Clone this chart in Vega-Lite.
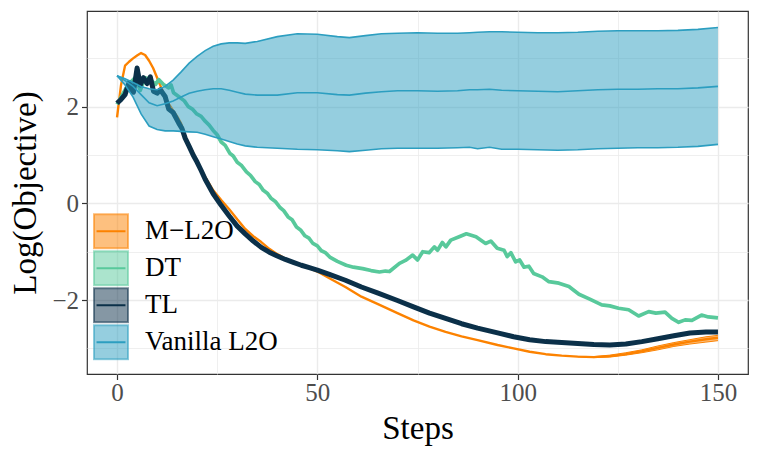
{
  "$schema": "https://vega.github.io/schema/vega-lite/v6.json",
  "width": 661,
  "height": 363,
  "autosize": {"type": "none"},
  "padding": {"left": 87, "top": 11, "right": 13, "bottom": 83},
  "background": "white",
  "config": {
    "font": "Liberation Serif",
    "view": {"stroke": "#333333", "strokeWidth": 1.2},
    "axis": {
      "domain": false,
      "gridColor": "#EBEBEB",
      "tickColor": "#333333",
      "tickSize": 5.5,
      "tickWidth": 1.2,
      "labelFont": "Liberation Serif",
      "labelFontSize": 25,
      "labelColor": "#4D4D4D",
      "titleFont": "Liberation Serif",
      "titleFontSize": 33,
      "titleFontWeight": "normal",
      "titleColor": "black"
    },
    "legend": {
      "labelFont": "Liberation Serif",
      "labelFontSize": 27,
      "labelColor": "black",
      "labelLimit": 400
    }
  },
  "datasets": {
    "runs": [
      {"method": "M−L2O", "step": 0, "y": 1.78},
      {"method": "M−L2O", "step": 1, "y": 2.45},
      {"method": "M−L2O", "step": 2, "y": 2.85},
      {"method": "M−L2O", "step": 3, "y": 2.93},
      {"method": "M−L2O", "step": 4, "y": 3.0},
      {"method": "M−L2O", "step": 5, "y": 3.06},
      {"method": "M−L2O", "step": 6, "y": 3.11},
      {"method": "M−L2O", "step": 7, "y": 3.07},
      {"method": "M−L2O", "step": 8, "y": 2.95},
      {"method": "M−L2O", "step": 9, "y": 2.8},
      {"method": "M−L2O", "step": 10, "y": 2.6},
      {"method": "M−L2O", "step": 11, "y": 2.4},
      {"method": "M−L2O", "step": 12, "y": 2.2},
      {"method": "M−L2O", "step": 13, "y": 2.05},
      {"method": "M−L2O", "step": 14, "y": 1.92},
      {"method": "M−L2O", "step": 15, "y": 1.8},
      {"method": "M−L2O", "step": 16, "y": 1.65},
      {"method": "M−L2O", "step": 17, "y": 1.4},
      {"method": "M−L2O", "step": 18, "y": 1.2},
      {"method": "M−L2O", "step": 19, "y": 1.05},
      {"method": "M−L2O", "step": 20, "y": 0.85},
      {"method": "M−L2O", "step": 21, "y": 0.7},
      {"method": "M−L2O", "step": 22, "y": 0.55},
      {"method": "M−L2O", "step": 24, "y": 0.27},
      {"method": "M−L2O", "step": 26, "y": 0.07},
      {"method": "M−L2O", "step": 28, "y": -0.12},
      {"method": "M−L2O", "step": 30, "y": -0.33},
      {"method": "M−L2O", "step": 32, "y": -0.53},
      {"method": "M−L2O", "step": 34, "y": -0.68},
      {"method": "M−L2O", "step": 36, "y": -0.8},
      {"method": "M−L2O", "step": 38, "y": -0.94},
      {"method": "M−L2O", "step": 40, "y": -1.05},
      {"method": "M−L2O", "step": 42, "y": -1.14},
      {"method": "M−L2O", "step": 44, "y": -1.22},
      {"method": "M−L2O", "step": 46, "y": -1.29},
      {"method": "M−L2O", "step": 48, "y": -1.34},
      {"method": "M−L2O", "step": 50, "y": -1.41},
      {"method": "M−L2O", "step": 53, "y": -1.55},
      {"method": "M−L2O", "step": 57, "y": -1.73},
      {"method": "M−L2O", "step": 61, "y": -1.93},
      {"method": "M−L2O", "step": 65, "y": -2.08},
      {"method": "M−L2O", "step": 70, "y": -2.27},
      {"method": "M−L2O", "step": 74, "y": -2.42},
      {"method": "M−L2O", "step": 78, "y": -2.55},
      {"method": "M−L2O", "step": 82, "y": -2.66},
      {"method": "M−L2O", "step": 86, "y": -2.75},
      {"method": "M−L2O", "step": 90, "y": -2.83},
      {"method": "M−L2O", "step": 95, "y": -2.93},
      {"method": "M−L2O", "step": 99, "y": -3.0},
      {"method": "M−L2O", "step": 103, "y": -3.07},
      {"method": "M−L2O", "step": 107, "y": -3.12},
      {"method": "M−L2O", "step": 111, "y": -3.15},
      {"method": "M−L2O", "step": 115, "y": -3.17, "lo": -3.175, "hi": -3.165},
      {"method": "M−L2O", "step": 119, "y": -3.18, "lo": -3.19, "hi": -3.17},
      {"method": "M−L2O", "step": 123, "y": -3.16, "lo": -3.18, "hi": -3.14},
      {"method": "M−L2O", "step": 127, "y": -3.12, "lo": -3.14, "hi": -3.09},
      {"method": "M−L2O", "step": 131, "y": -3.06, "lo": -3.09, "hi": -3.03},
      {"method": "M−L2O", "step": 135, "y": -2.99, "lo": -3.03, "hi": -2.95},
      {"method": "M−L2O", "step": 139, "y": -2.92, "lo": -2.96, "hi": -2.88},
      {"method": "M−L2O", "step": 143, "y": -2.86, "lo": -2.91, "hi": -2.82},
      {"method": "M−L2O", "step": 147, "y": -2.81, "lo": -2.87, "hi": -2.76},
      {"method": "M−L2O", "step": 150, "y": -2.78, "lo": -2.84, "hi": -2.73},

      {"method": "DT", "step": 0, "y": 2.05},
      {"method": "DT", "step": 1, "y": 2.2},
      {"method": "DT", "step": 2.5, "y": 2.42},
      {"method": "DT", "step": 3.7, "y": 2.53},
      {"method": "DT", "step": 4.5, "y": 2.6},
      {"method": "DT", "step": 5.8, "y": 2.34},
      {"method": "DT", "step": 7, "y": 2.6},
      {"method": "DT", "step": 8.3, "y": 2.56},
      {"method": "DT", "step": 9.6, "y": 2.46},
      {"method": "DT", "step": 10.4, "y": 2.56},
      {"method": "DT", "step": 11.6, "y": 2.46},
      {"method": "DT", "step": 12.9, "y": 2.39},
      {"method": "DT", "step": 13.5, "y": 2.45},
      {"method": "DT", "step": 14.1, "y": 2.29},
      {"method": "DT", "step": 15.7, "y": 2.19},
      {"method": "DT", "step": 16.8, "y": 2.12},
      {"method": "DT", "step": 17.8, "y": 2.0},
      {"method": "DT", "step": 18.8, "y": 1.95},
      {"method": "DT", "step": 19.9, "y": 1.85},
      {"method": "DT", "step": 21, "y": 1.8},
      {"method": "DT", "step": 22, "y": 1.7},
      {"method": "DT", "step": 23, "y": 1.62},
      {"method": "DT", "step": 24, "y": 1.51},
      {"method": "DT", "step": 25, "y": 1.42},
      {"method": "DT", "step": 26, "y": 1.27},
      {"method": "DT", "step": 27, "y": 1.2},
      {"method": "DT", "step": 28.2, "y": 1.03},
      {"method": "DT", "step": 29, "y": 0.98},
      {"method": "DT", "step": 30, "y": 0.85},
      {"method": "DT", "step": 31, "y": 0.79},
      {"method": "DT", "step": 32.3, "y": 0.65},
      {"method": "DT", "step": 33.3, "y": 0.58},
      {"method": "DT", "step": 34.5, "y": 0.45},
      {"method": "DT", "step": 35.5, "y": 0.39},
      {"method": "DT", "step": 36.5, "y": 0.27},
      {"method": "DT", "step": 37.5, "y": 0.21},
      {"method": "DT", "step": 38.5, "y": 0.1},
      {"method": "DT", "step": 39.5, "y": 0.04},
      {"method": "DT", "step": 40.6, "y": -0.08},
      {"method": "DT", "step": 41.6, "y": -0.15},
      {"method": "DT", "step": 42.7, "y": -0.28},
      {"method": "DT", "step": 43.7, "y": -0.34},
      {"method": "DT", "step": 44.8, "y": -0.49},
      {"method": "DT", "step": 45.8, "y": -0.55},
      {"method": "DT", "step": 46.9, "y": -0.67},
      {"method": "DT", "step": 47.9, "y": -0.72},
      {"method": "DT", "step": 48.9, "y": -0.83},
      {"method": "DT", "step": 50, "y": -0.88},
      {"method": "DT", "step": 51, "y": -0.98},
      {"method": "DT", "step": 52, "y": -1.02},
      {"method": "DT", "step": 53.1, "y": -1.11},
      {"method": "DT", "step": 55, "y": -1.2},
      {"method": "DT", "step": 57.2, "y": -1.28},
      {"method": "DT", "step": 59, "y": -1.32},
      {"method": "DT", "step": 61.3, "y": -1.35},
      {"method": "DT", "step": 63.4, "y": -1.39},
      {"method": "DT", "step": 65.5, "y": -1.42},
      {"method": "DT", "step": 67, "y": -1.4},
      {"method": "DT", "step": 68, "y": -1.41},
      {"method": "DT", "step": 70.5, "y": -1.24},
      {"method": "DT", "step": 72, "y": -1.18},
      {"method": "DT", "step": 73.8, "y": -1.07},
      {"method": "DT", "step": 75, "y": -1.17},
      {"method": "DT", "step": 76.3, "y": -1.0},
      {"method": "DT", "step": 77.9, "y": -1.02},
      {"method": "DT", "step": 79.2, "y": -0.9},
      {"method": "DT", "step": 80, "y": -0.97},
      {"method": "DT", "step": 81.2, "y": -0.81},
      {"method": "DT", "step": 82.1, "y": -0.9},
      {"method": "DT", "step": 83.3, "y": -0.76},
      {"method": "DT", "step": 85.4, "y": -0.69},
      {"method": "DT", "step": 87.2, "y": -0.63},
      {"method": "DT", "step": 89.6, "y": -0.69},
      {"method": "DT", "step": 92, "y": -0.83},
      {"method": "DT", "step": 93.3, "y": -0.78},
      {"method": "DT", "step": 94.9, "y": -0.93},
      {"method": "DT", "step": 96.6, "y": -0.97},
      {"method": "DT", "step": 97.4, "y": -1.1},
      {"method": "DT", "step": 98.3, "y": -1.02},
      {"method": "DT", "step": 99.5, "y": -1.21},
      {"method": "DT", "step": 100.5, "y": -1.17},
      {"method": "DT", "step": 101.6, "y": -1.32},
      {"method": "DT", "step": 102.8, "y": -1.3},
      {"method": "DT", "step": 104, "y": -1.45},
      {"method": "DT", "step": 106.1, "y": -1.52},
      {"method": "DT", "step": 107.8, "y": -1.62},
      {"method": "DT", "step": 110.3, "y": -1.65},
      {"method": "DT", "step": 112.8, "y": -1.72},
      {"method": "DT", "step": 115.3, "y": -1.88},
      {"method": "DT", "step": 118, "y": -1.98},
      {"method": "DT", "step": 121, "y": -2.1},
      {"method": "DT", "step": 123, "y": -2.12},
      {"method": "DT", "step": 125.2, "y": -2.17},
      {"method": "DT", "step": 127.7, "y": -2.2},
      {"method": "DT", "step": 130.2, "y": -2.33},
      {"method": "DT", "step": 132.7, "y": -2.24},
      {"method": "DT", "step": 134.5, "y": -2.27},
      {"method": "DT", "step": 136.8, "y": -2.25},
      {"method": "DT", "step": 138.5, "y": -2.38},
      {"method": "DT", "step": 140.2, "y": -2.46},
      {"method": "DT", "step": 141.8, "y": -2.41},
      {"method": "DT", "step": 143.5, "y": -2.42},
      {"method": "DT", "step": 145.9, "y": -2.31},
      {"method": "DT", "step": 147.6, "y": -2.35},
      {"method": "DT", "step": 150, "y": -2.37},

      {"method": "TL", "step": 0, "y": 2.07},
      {"method": "TL", "step": 1, "y": 2.15},
      {"method": "TL", "step": 2, "y": 2.25},
      {"method": "TL", "step": 3, "y": 2.5},
      {"method": "TL", "step": 3.5, "y": 2.35},
      {"method": "TL", "step": 4.1, "y": 2.3},
      {"method": "TL", "step": 5, "y": 2.8},
      {"method": "TL", "step": 5.8, "y": 2.45},
      {"method": "TL", "step": 6.6, "y": 2.6},
      {"method": "TL", "step": 7.5, "y": 2.48},
      {"method": "TL", "step": 8.3, "y": 2.62},
      {"method": "TL", "step": 9.1, "y": 2.32},
      {"method": "TL", "step": 10, "y": 2.28},
      {"method": "TL", "step": 10.8, "y": 2.35},
      {"method": "TL", "step": 12, "y": 2.21},
      {"method": "TL", "step": 12.9, "y": 1.95},
      {"method": "TL", "step": 14, "y": 1.88},
      {"method": "TL", "step": 15.4, "y": 1.66},
      {"method": "TL", "step": 16.2, "y": 1.55},
      {"method": "TL", "step": 17, "y": 1.35},
      {"method": "TL", "step": 18, "y": 1.18},
      {"method": "TL", "step": 19, "y": 1.0},
      {"method": "TL", "step": 20, "y": 0.85},
      {"method": "TL", "step": 21, "y": 0.68},
      {"method": "TL", "step": 22, "y": 0.5},
      {"method": "TL", "step": 24, "y": 0.2},
      {"method": "TL", "step": 26, "y": -0.04},
      {"method": "TL", "step": 28, "y": -0.26},
      {"method": "TL", "step": 30, "y": -0.47},
      {"method": "TL", "step": 32, "y": -0.63},
      {"method": "TL", "step": 34, "y": -0.78},
      {"method": "TL", "step": 36, "y": -0.91},
      {"method": "TL", "step": 38, "y": -1.01},
      {"method": "TL", "step": 40, "y": -1.09},
      {"method": "TL", "step": 42, "y": -1.16},
      {"method": "TL", "step": 44, "y": -1.22},
      {"method": "TL", "step": 46, "y": -1.28},
      {"method": "TL", "step": 48, "y": -1.33},
      {"method": "TL", "step": 50, "y": -1.38},
      {"method": "TL", "step": 53, "y": -1.47},
      {"method": "TL", "step": 57, "y": -1.59},
      {"method": "TL", "step": 61, "y": -1.73},
      {"method": "TL", "step": 65, "y": -1.85},
      {"method": "TL", "step": 70, "y": -2.01},
      {"method": "TL", "step": 74, "y": -2.14},
      {"method": "TL", "step": 78, "y": -2.27},
      {"method": "TL", "step": 82, "y": -2.38},
      {"method": "TL", "step": 86, "y": -2.49},
      {"method": "TL", "step": 90, "y": -2.58},
      {"method": "TL", "step": 95, "y": -2.68},
      {"method": "TL", "step": 99, "y": -2.76},
      {"method": "TL", "step": 103, "y": -2.82},
      {"method": "TL", "step": 107, "y": -2.86},
      {"method": "TL", "step": 111, "y": -2.88},
      {"method": "TL", "step": 115, "y": -2.9},
      {"method": "TL", "step": 119, "y": -2.92},
      {"method": "TL", "step": 123, "y": -2.93},
      {"method": "TL", "step": 127, "y": -2.91},
      {"method": "TL", "step": 131, "y": -2.86},
      {"method": "TL", "step": 135, "y": -2.8},
      {"method": "TL", "step": 139, "y": -2.74},
      {"method": "TL", "step": 143, "y": -2.68},
      {"method": "TL", "step": 147, "y": -2.66},
      {"method": "TL", "step": 150, "y": -2.66},

      {"method": "Vanilla L2O", "step": 0, "lo": 2.64, "y": 2.64, "hi": 2.64},
      {"method": "Vanilla L2O", "step": 2, "lo": 2.45, "y": 2.54, "hi": 2.58},
      {"method": "Vanilla L2O", "step": 4, "lo": 2.2, "y": 2.42, "hi": 2.5},
      {"method": "Vanilla L2O", "step": 6, "lo": 1.85, "y": 2.25, "hi": 2.42},
      {"method": "Vanilla L2O", "step": 8, "lo": 1.6, "y": 2.08, "hi": 2.37},
      {"method": "Vanilla L2O", "step": 10, "lo": 1.53, "y": 2.02, "hi": 2.35},
      {"method": "Vanilla L2O", "step": 12, "lo": 1.5, "y": 2.06, "hi": 2.42},
      {"method": "Vanilla L2O", "step": 14, "lo": 1.5, "y": 2.12, "hi": 2.55},
      {"method": "Vanilla L2O", "step": 16, "lo": 1.49, "y": 2.2, "hi": 2.72},
      {"method": "Vanilla L2O", "step": 18, "lo": 1.48, "y": 2.28, "hi": 2.9},
      {"method": "Vanilla L2O", "step": 20, "lo": 1.47, "y": 2.32, "hi": 3.04},
      {"method": "Vanilla L2O", "step": 22, "lo": 1.43, "y": 2.35, "hi": 3.16},
      {"method": "Vanilla L2O", "step": 24, "lo": 1.38, "y": 2.37, "hi": 3.25},
      {"method": "Vanilla L2O", "step": 26, "lo": 1.33, "y": 2.37, "hi": 3.3},
      {"method": "Vanilla L2O", "step": 28, "lo": 1.28, "y": 2.34, "hi": 3.32},
      {"method": "Vanilla L2O", "step": 30, "lo": 1.23, "y": 2.3, "hi": 3.32},
      {"method": "Vanilla L2O", "step": 32, "lo": 1.19, "y": 2.26, "hi": 3.31},
      {"method": "Vanilla L2O", "step": 35, "lo": 1.16, "y": 2.24, "hi": 3.35},
      {"method": "Vanilla L2O", "step": 40, "lo": 1.14, "y": 2.24, "hi": 3.45},
      {"method": "Vanilla L2O", "step": 45, "lo": 1.12, "y": 2.29, "hi": 3.51},
      {"method": "Vanilla L2O", "step": 50, "lo": 1.11, "y": 2.29, "hi": 3.5},
      {"method": "Vanilla L2O", "step": 55, "lo": 1.09, "y": 2.25, "hi": 3.45},
      {"method": "Vanilla L2O", "step": 58, "lo": 1.07, "y": 2.24, "hi": 3.43},
      {"method": "Vanilla L2O", "step": 62, "lo": 1.1, "y": 2.28, "hi": 3.47},
      {"method": "Vanilla L2O", "step": 66, "lo": 1.13, "y": 2.31, "hi": 3.51},
      {"method": "Vanilla L2O", "step": 70, "lo": 1.14, "y": 2.33, "hi": 3.52},
      {"method": "Vanilla L2O", "step": 75, "lo": 1.14, "y": 2.33, "hi": 3.53},
      {"method": "Vanilla L2O", "step": 80, "lo": 1.14, "y": 2.32, "hi": 3.52},
      {"method": "Vanilla L2O", "step": 85, "lo": 1.15, "y": 2.33, "hi": 3.52},
      {"method": "Vanilla L2O", "step": 88, "lo": 1.16, "y": 2.35, "hi": 3.53},
      {"method": "Vanilla L2O", "step": 90, "lo": 1.13, "y": 2.35, "hi": 3.54},
      {"method": "Vanilla L2O", "step": 93, "lo": 1.16, "y": 2.36, "hi": 3.55},
      {"method": "Vanilla L2O", "step": 96, "lo": 1.12, "y": 2.34, "hi": 3.55},
      {"method": "Vanilla L2O", "step": 100, "lo": 1.12, "y": 2.33, "hi": 3.54},
      {"method": "Vanilla L2O", "step": 105, "lo": 1.11, "y": 2.32, "hi": 3.53},
      {"method": "Vanilla L2O", "step": 110, "lo": 1.1, "y": 2.31, "hi": 3.53},
      {"method": "Vanilla L2O", "step": 115, "lo": 1.11, "y": 2.33, "hi": 3.54},
      {"method": "Vanilla L2O", "step": 120, "lo": 1.13, "y": 2.35, "hi": 3.56},
      {"method": "Vanilla L2O", "step": 125, "lo": 1.14, "y": 2.36, "hi": 3.57},
      {"method": "Vanilla L2O", "step": 130, "lo": 1.15, "y": 2.36, "hi": 3.57},
      {"method": "Vanilla L2O", "step": 135, "lo": 1.15, "y": 2.37, "hi": 3.57},
      {"method": "Vanilla L2O", "step": 140, "lo": 1.16, "y": 2.37, "hi": 3.58},
      {"method": "Vanilla L2O", "step": 145, "lo": 1.18, "y": 2.39, "hi": 3.6},
      {"method": "Vanilla L2O", "step": 150, "lo": 1.22, "y": 2.42, "hi": 3.64}
    ]
  },
  "data": {"name": "runs"},
  "encoding": {
    "x": {
      "field": "step",
      "type": "quantitative",
      "title": "Steps",
      "scale": {"domain": [-7.5, 157.5], "nice": false, "zero": false},
      "axis": {
        "values": [0, 25, 50, 75, 100, 125, 150],
        "labelExpr": "datum.value % 50 === 0 ? datum.label : ''",
        "tickColor": {"condition": {"test": "datum.value % 50 !== 0", "value": "transparent"}, "value": "#333333"},
        "gridWidth": {"condition": {"test": "datum.value % 50 !== 0", "value": 0.8}, "value": 1.4},
        "labelPadding": 1,
        "titleBaseline": "alphabetic",
        "titleY": 64
      }
    },
    "y": {
      "field": "y",
      "type": "quantitative",
      "title": "Log(Objective)",
      "scale": {"domain": [-3.53, 3.98], "nice": false, "zero": false},
      "axis": {
        "values": [-3, -2, -1, 0, 1, 2, 3],
        "labelExpr": "datum.value % 2 === 0 ? datum.label : ''",
        "tickColor": {"condition": {"test": "datum.value % 2 !== 0", "value": "transparent"}, "value": "#333333"},
        "gridWidth": {"condition": {"test": "datum.value % 2 !== 0", "value": 0.8}, "value": 1.4},
        "labelPadding": 3,
        "titleBaseline": "alphabetic",
        "titleX": -52
      }
    }
  },
  "layer": [
    {
      "transform": [{"filter": "datum.method !== 'Vanilla L2O'"}],
      "mark": {"type": "area", "fillOpacity": 0.5},
      "encoding": {
        "y": {"field": "lo", "type": "quantitative"},
        "y2": {"field": "hi"},
        "fill": {
          "field": "method",
          "type": "nominal",
          "scale": {"domain": ["DT", "M−L2O", "TL", "Vanilla L2O"], "range": ["#58C99B", "#FC8200", "#0B3049", "#2C9EC0"]},
          "legend": {
            "title": null,
            "orient": "none",
            "legendX": 6,
            "legendY": 202,
            "padding": 0,
            "values": ["M−L2O", "DT", "TL", "Vanilla L2O"],
            "symbolType": "square",
            "symbolSize": 1156,
            "symbolStrokeWidth": 2,
            "clipHeight": 36.7,
            "rowPadding": 0,
            "labelOffset": 16,
            "labelExpr": "''",
            "encode": {"symbols": {"update": {"stroke": {"scale": "fill", "field": "value"}, "fillOpacity": {"value": 0.5}, "strokeOpacity": {"value": 0.55}, "opacity": {"value": 1}}}}
          }
        }
      }
    },
    {
      "transform": [{"filter": "datum.method !== 'Vanilla L2O'"}],
      "mark": {"type": "line", "strokeWidth": 1},
      "encoding": {
        "y": {"field": "lo", "type": "quantitative"},
        "stroke": {
          "field": "method",
          "type": "nominal",
          "scale": {"domain": ["M−L2O", "DT", "TL", "Vanilla L2O"], "range": ["#FC8200", "#58C99B", "#0B3049", "#2C9EC0"]},
          "legend": {
            "title": null,
            "orient": "none",
            "legendX": 6,
            "legendY": 202,
            "padding": 0,
            "symbolType": "M-0.85,0H0.85",
            "symbolSize": 1156,
            "symbolStrokeWidth": 2,
            "symbolFillColor": "transparent",
            "clipHeight": 36.7,
            "rowPadding": 0,
            "labelOffset": 16
          }
        }
      }
    },
    {
      "transform": [{"filter": "datum.method !== 'Vanilla L2O'"}],
      "mark": {"type": "line", "strokeWidth": 1},
      "encoding": {
        "y": {"field": "hi", "type": "quantitative"},
        "stroke": {"field": "method", "type": "nominal"}
      }
    },
    {
      "transform": [{"filter": "datum.method !== 'Vanilla L2O'"}],
      "mark": {"type": "line", "strokeJoin": "round"},
      "encoding": {
        "stroke": {"field": "method", "type": "nominal"},
        "strokeWidth": {
          "field": "method",
          "type": "ordinal",
          "scale": {"domain": ["M−L2O", "DT", "TL"], "range": [2.4, 5, 3.4]},
          "legend": null
        }
      }
    },
    {
      "transform": [{"filter": "datum.method === 'Vanilla L2O'"}],
      "mark": {"type": "area", "fillOpacity": 0.5},
      "encoding": {
        "y": {"field": "lo", "type": "quantitative"},
        "y2": {"field": "hi"},
        "fill": {"field": "method", "type": "nominal"}
      }
    },
    {
      "transform": [{"filter": "datum.method === 'Vanilla L2O'"}],
      "mark": {"type": "line", "strokeWidth": 1.6},
      "encoding": {
        "y": {"field": "lo", "type": "quantitative"},
        "stroke": {"field": "method", "type": "nominal"}
      }
    },
    {
      "transform": [{"filter": "datum.method === 'Vanilla L2O'"}],
      "mark": {"type": "line", "strokeWidth": 1.6},
      "encoding": {
        "y": {"field": "hi", "type": "quantitative"},
        "stroke": {"field": "method", "type": "nominal"}
      }
    },
    {
      "transform": [{"filter": "datum.method === 'Vanilla L2O'"}],
      "mark": {"type": "line", "strokeWidth": 1.6},
      "encoding": {
        "stroke": {"field": "method", "type": "nominal"}
      }
    }
  ]
}
